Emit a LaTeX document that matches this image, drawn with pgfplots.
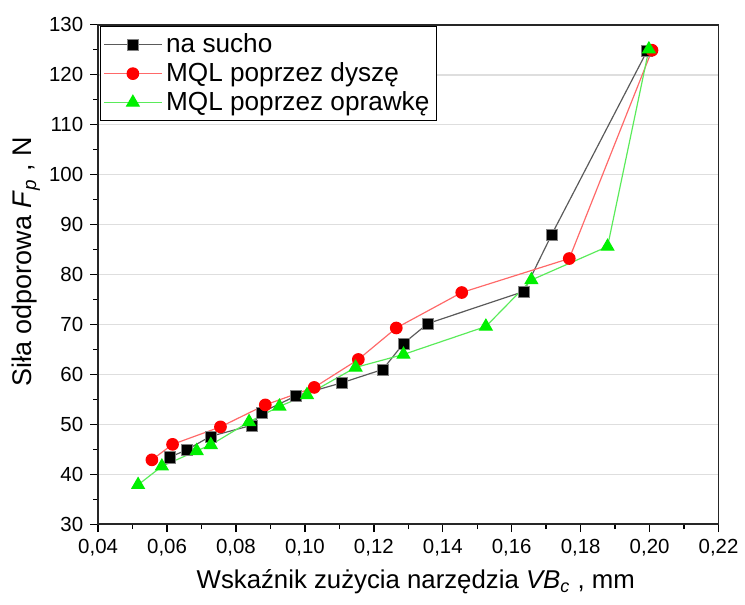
\documentclass[border=0pt]{standalone}
\usepackage{fontspec}
\setmainfont{Liberation Sans}
\usepackage{pgfplots}
\pgfplotsset{compat=1.18}
\definecolor{lgray}{RGB}{222,222,222}
\definecolor{sline}{RGB}{90,90,90}
\definecolor{rline}{RGB}{255,105,105}
\definecolor{gline}{RGB}{90,235,90}
\definecolor{gmark}{RGB}{0,240,0}
\begin{document}
\begin{tikzpicture}
\begin{axis}[name=ax, scale only axis, width=313pt, height=252pt,
  xmin=0.04, xmax=0.22, ymin=30, ymax=130,
  xtick={0.04,0.06,0.08,0.10,0.12,0.14,0.16,0.18,0.20,0.22},
  ytick={30,40,50,60,70,80,90,100,110,120,130},
  minor x tick num=1, minor y tick num=1,
  scaled x ticks=false,
  tick pos=left, tick align=outside,
  major tick length=4pt, minor tick length=2.5pt,
  every tick/.style={black, line width=0.7pt},
  ymajorgrids, grid style={lgray, line width=0.8pt},
  axis line style={line width=0.9pt, black!85},
  /pgf/number format/assume math mode=true,
  xticklabel style={font=\fontsize{10.3}{12}\selectfont, /pgf/number format/.cd, fixed, fixed zerofill, precision=2, use comma},
  yticklabel style={font=\fontsize{10.3}{12}\selectfont},
  xlabel={Wskaźnik zużycia narzędzia \textit{VB}\textsubscript{\textit{c}} , mm},
  ylabel={Siła odporowa \textit{F}\textsubscript{\textit{p}} , N},
  every axis x label/.style={at={(axis description cs:0.512,-0.129)}, anchor=base, font=\fontsize{13}{16}\selectfont},
  every axis y label/.style={at={(axis description cs:-0.107,0.525)}, rotate=90, anchor=base, font=\fontsize{13.6}{16}\selectfont},
  legend style={at={(0.003,0.997)}, anchor=north west, draw=black, line width=0.6pt,
    font=\fontsize{13.2}{15}\selectfont, inner sep=1.5pt, row sep=-0.5pt},
  legend cell align=left,
  legend image code/.code={\draw[mark repeat=2,mark phase=2,#1] plot coordinates {(0pt,0pt)(14.5pt,0pt)(29pt,0pt)};},
]
\addplot[color=sline, line width=0.6pt, mark=square*, mark size=2.8pt,
  mark options={fill=black, draw=gray, line width=0.3pt}] coordinates {
  (0.0607,43.4) (0.0657,44.9) (0.0726,47.6) (0.0845,49.8) (0.0875,52.4)
  (0.0974,55.7) (0.1106,58.3) (0.1226,61.0) (0.1286,66.2) (0.1357,70.2)
  (0.1635,76.6) (0.1716,88.0) (0.1993,124.8)};
\addlegendentry{na sucho}
\addplot[color=rline, line width=0.6pt, mark=*, mark size=2.9pt,
  mark options={fill=red, draw=red}] coordinates {
  (0.0556,42.9) (0.0616,46.0) (0.0755,49.5) (0.0885,53.9) (0.1027,57.4)
  (0.1155,63.0) (0.1265,69.3) (0.1455,76.4) (0.1767,83.2) (0.2007,124.9)};
\addlegendentry{MQL poprzez dyszę}
\addplot[color=gline, line width=0.6pt, mark=triangle*, mark size=3.6pt,
  mark options={fill=gmark, draw=gmark}] coordinates {
  (0.0516,37.9) (0.0585,41.6) (0.0686,44.7) (0.0727,45.9) (0.0838,50.5)
  (0.0926,53.6) (0.1006,55.9) (0.1147,61.4) (0.1286,64.0) (0.1525,69.6)
  (0.1657,78.9) (0.1878,85.6) (0.1998,125.1)};
\addlegendentry{MQL poprzez oprawkę}
\end{axis}
\path ([xshift=-49.5pt,yshift=-40.5pt]ax.south west) rectangle ([xshift=10pt,yshift=12.5pt]ax.north east);
\end{tikzpicture}
\end{document}
